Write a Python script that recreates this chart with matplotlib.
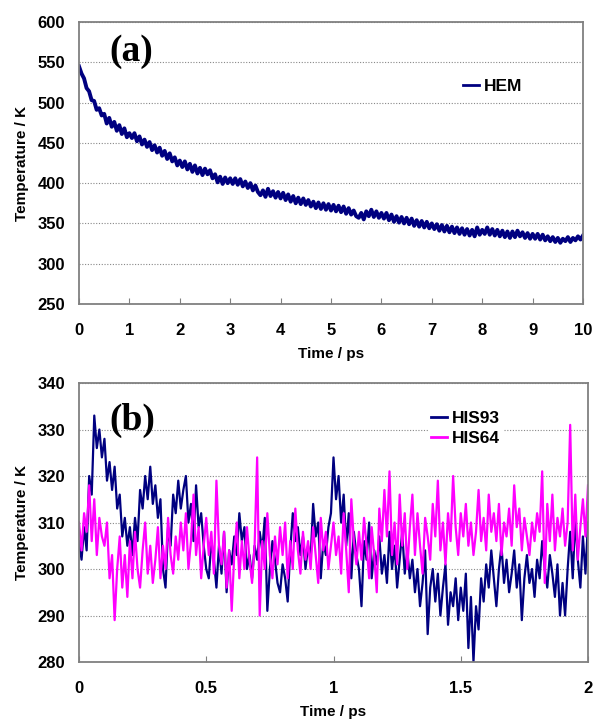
import numpy as np
import matplotlib
matplotlib.use("Agg")
import matplotlib.pyplot as plt
from matplotlib.ticker import FormatStrFormatter

plt.rcParams['font.family'] = ['Liberation Sans', 'DejaVu Sans']
plt.rcParams['font.weight'] = 'bold'

# (a) HEM temperature, sampled every 0.05 ps from 0 to 10 ps
hem = [545, 536, 530, 518, 514, 503, 502, 491, 493, 484, 486,
       474, 481, 470, 476, 465, 472, 461, 468, 457, 462,
       456, 462, 452, 458, 448, 454, 445, 451, 441, 447,
       438, 444, 434, 440, 430, 437, 427, 432, 422, 428,
       420, 427, 417, 424, 414, 422, 412, 419, 410, 418,
       411, 416, 406, 411, 401, 408, 399, 407, 400, 406,
       399, 406, 398, 405, 396, 402, 394, 400, 391, 397,
       389, 385, 391, 383, 393, 384, 390, 382, 389, 381,
       388, 379, 386, 377, 384, 375, 382, 374, 381, 373,
       379, 371, 377, 369, 376, 368, 375, 367, 374, 366,
       373, 365, 372, 364, 371, 362, 369, 361, 366, 359,
       357, 363, 355, 365, 359, 367, 358, 365, 357, 363,
       356, 363, 354, 361, 352, 359, 351, 358, 350, 357,
       349, 356, 347, 354, 346, 353, 345, 352, 344, 350,
       343, 349, 341, 348, 340, 347, 339, 346, 338, 345,
       337, 344, 336, 343, 335, 342, 334, 345, 336, 342,
       337, 345, 336, 343, 335, 342, 334, 341, 333, 340,
       332, 340, 333, 341, 334, 339, 332, 338, 331, 337,
       331, 337, 330, 336, 329, 334, 328, 333, 327, 332,
       326, 331, 328, 333, 327, 332, 329, 334, 330, 335]

# (b) residue temperatures, sampled every 0.01 ps from 0 to 2 ps
his93 = [306, 302, 309, 304, 320, 316, 333, 326, 330, 324,
         328, 319, 323, 317, 322, 313, 316, 307, 311, 305,
         309, 303, 311, 306, 317, 313, 320, 315, 322, 314,
         318, 311, 315, 300, 296, 309, 305, 316, 312, 319,
         313, 317, 320, 310, 314, 306, 318, 309, 312, 305,
         300, 298, 306, 302, 296, 305, 299, 308, 295, 304,
         301, 307, 303, 312, 306, 309, 300, 303, 298, 305,
         302, 308, 304, 311, 291, 300, 306, 302, 297, 295,
         301, 298, 293, 304, 312, 306, 309, 303, 307, 300,
         305, 302, 314, 307, 310, 298, 306, 303, 309, 312,
         324, 315, 320, 310, 316, 305, 312, 298, 308, 303,
         300, 292, 306, 302, 310, 298, 304, 301, 307, 299,
         303, 297, 308, 300, 305, 296, 302, 308, 299, 304,
         298, 302, 295, 300, 292, 297, 304, 286, 296, 300,
         293, 299, 290, 296, 301, 288, 295, 292, 298, 289,
         296, 291, 299, 283, 294, 280, 292, 287, 298, 293,
         301, 296, 304, 298, 292, 300, 305, 297, 302, 295,
         299, 304, 296, 301, 289, 298, 303, 297, 300, 294,
         302, 298, 306, 300, 296, 303, 299, 294, 301, 290,
         297, 290, 300, 308, 298, 311, 302, 296, 307, 299,
         310]
his64 = [310, 304, 312, 308, 318, 306, 315, 303, 311, 307,
         305, 310, 298, 303, 289, 300, 307, 296, 303, 294,
         306, 298, 308, 300, 296, 304, 310, 299, 305, 297,
         302, 309, 298, 305, 300, 311, 303, 299, 307, 302,
         310, 304, 312, 300, 306, 316, 303, 309, 298, 305,
         311, 303, 308, 299, 319, 305, 301, 308, 296, 304,
         291, 303, 310, 298, 306, 300, 309, 302, 297, 305,
         324, 290, 306, 300, 312, 303, 298, 307, 301, 309,
         303, 310, 298, 306, 300, 313, 304, 299, 308, 302,
         306, 300, 309, 303, 297, 311, 304, 308, 300, 305,
         310, 303, 307, 299, 312, 304, 295, 315, 306, 301,
         308, 302, 311, 305, 298, 309, 303, 295, 313, 306,
         317, 307, 321, 303, 310, 301, 316, 305, 312, 300,
         309, 316, 303, 312, 305, 299, 311, 307, 302, 314,
         307, 319, 304, 310, 301, 312, 306, 320, 309, 303,
         312, 307, 314, 305, 310, 303, 308, 317, 306, 311,
         304, 316, 308, 312, 306, 314, 303, 310, 307, 313,
         305, 318, 309, 313, 304, 311, 307, 303, 310, 306,
         312, 308, 321, 297, 314, 306, 316, 304, 311, 307,
         313, 305, 310, 331, 304, 316, 302, 309, 315, 307,
         318]

t_a = np.linspace(0, 10, len(hem))
t_b = np.linspace(0, 2, len(his93))

navy = '#000080'
magenta = '#ff00ff'
spine_col = '#808080'

fig = plt.figure(figsize=(5.93, 7.22), dpi=100)
ax1 = fig.add_axes([79 / 593, 1 - 304 / 722, 504 / 593, 282 / 722])
ax2 = fig.add_axes([79 / 593, 1 - 662 / 722, 509 / 593, 279 / 722])


def style_axes(ax):
    for s in ax.spines.values():
        s.set_color(spine_col)
        s.set_linewidth(1.3)
    ax.yaxis.grid(True, color='#888888', linestyle=(0, (1, 1.5)), linewidth=0.8)
    ax.set_axisbelow(True)
    ax.tick_params(axis='y', length=0, pad=10, labelsize=12)
    ax.tick_params(axis='x', direction='in', length=4, color=spine_col,
                   pad=14, labelsize=12)
    ax.xaxis.set_major_formatter(FormatStrFormatter('%g'))


serif = ['Liberation Serif', 'DejaVu Serif']

# panel (a)
ax1.plot(t_a, hem, color=navy, linewidth=2.8, label='HEM')
ax1.set_xlim(0, 10)
ax1.set_ylim(250, 600)
ax1.set_xticks(np.arange(0, 11, 1))
ax1.set_yticks(np.arange(250, 601, 50))
style_axes(ax1)
ax1.set_xlabel('Time / ps', fontsize=11, fontweight='bold', labelpad=6)
ax1.set_ylabel('Temperature / K', fontsize=11, fontweight='bold', labelpad=6)
ax1.text(0.103, 0.894, '(a)', transform=ax1.transAxes, ha='center', va='center',
         fontsize=27, family=serif, fontweight='bold')
leg1 = ax1.legend(loc='center left', bbox_to_anchor=(0.755, 0.77), frameon=True,
                  facecolor='white', edgecolor='none', framealpha=1, fancybox=False,
                  handlelength=0.9, handletextpad=0.3, borderpad=0.2, borderaxespad=0,
                  prop={'size': 12.5, 'weight': 'bold'})
for h in leg1.legend_handles:
    h.set_linewidth(2)

# panel (b)
ax2.plot(t_b, his93, color=navy, linewidth=1.6, label='HIS93')
ax2.plot(t_b, his64, color=magenta, linewidth=1.6, label='HIS64')
ax2.set_xlim(0, 2)
ax2.set_ylim(280, 340)
ax2.set_xticks([0, 0.5, 1, 1.5, 2])
ax2.set_yticks(np.arange(280, 341, 10))
style_axes(ax2)
ax2.set_xlabel('Time / ps', fontsize=11, fontweight='bold', labelpad=6)
ax2.set_ylabel('Temperature / K', fontsize=11, fontweight='bold', labelpad=6)
ax2.text(0.104, 0.867, '(b)', transform=ax2.transAxes, ha='center', va='center',
         fontsize=27, family=serif, fontweight='bold')
leg2 = ax2.legend(loc='center left', bbox_to_anchor=(0.685, 0.837), frameon=True,
                  facecolor='white', edgecolor='none', framealpha=1, fancybox=False,
                  handlelength=0.9, handletextpad=0.3, borderpad=0.2, borderaxespad=0,
                  labelspacing=0.25, prop={'size': 12.5, 'weight': 'bold'})
for h in leg2.legend_handles:
    h.set_linewidth(2)

fig.savefig('out.png', dpi=100)
